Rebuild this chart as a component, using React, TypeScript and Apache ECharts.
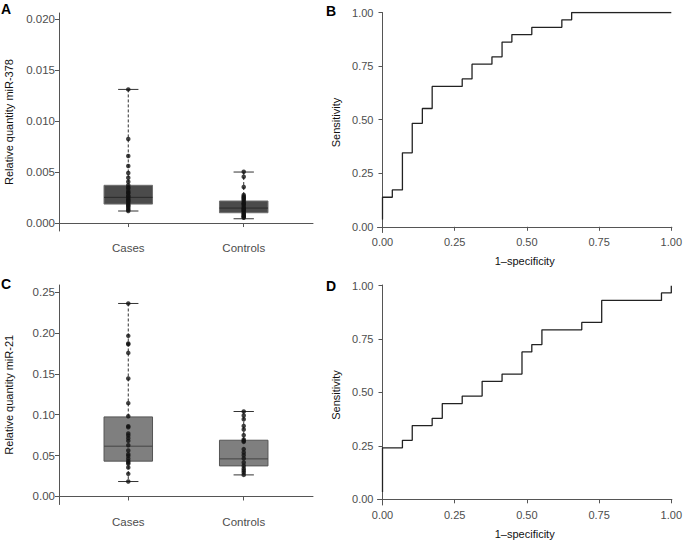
import React, { useEffect, useRef } from "react";
import * as echarts from "echarts";

// ---------- Data ----------
const boxCategories = ["Cases", "Controls"];
const boxPositions = [1, 2];

// box stats: [lower whisker, Q1, median, Q3, upper whisker]
const mir378CasesStats = [0.00118, 0.00186, 0.00252, 0.0037, 0.0131];
const mir378ControlsStats = [0.00042, 0.00101, 0.00147, 0.00216, 0.005];
const mir378CasesPoints = [
  0.0131, 0.00824, 0.00657, 0.00559, 0.0049, 0.00444, 0.00405, 0.0037, 0.0035, 0.0034,
  0.00317, 0.003, 0.00291, 0.00268, 0.0026, 0.00242, 0.0023, 0.00219, 0.0021, 0.00193,
  0.0018, 0.0017, 0.0016, 0.00144, 0.0013, 0.00118,
];
const mir378ControlsPoints = [
  0.00503, 0.00454, 0.00353, 0.00275, 0.0026, 0.00252, 0.0024, 0.00232, 0.00216, 0.00199,
  0.0019, 0.00183, 0.00167, 0.0015, 0.0014, 0.00134, 0.0012, 0.00118, 0.00101, 0.0009,
  0.00085, 0.0007, 0.00069, 0.0006, 0.00052,
];

const mir21CasesStats = [0.0183, 0.0432, 0.0615, 0.0973, 0.236];
const mir21ControlsStats = [0.0264, 0.0374, 0.046, 0.0688, 0.1039];
const mir21CasesPoints = [
  0.236, 0.1964, 0.1871, 0.186, 0.1756, 0.1443, 0.1141, 0.0982, 0.086, 0.0847, 0.077,
  0.0746, 0.0713, 0.068, 0.0627, 0.0562, 0.0517, 0.0497, 0.0465, 0.0436, 0.0416, 0.04,
  0.0355, 0.0277, 0.0183,
];
const mir21ControlsPoints = [
  0.1039, 0.099, 0.0945, 0.0863, 0.0819, 0.075, 0.0697, 0.068, 0.0668, 0.0579, 0.0538,
  0.0505, 0.0465, 0.0416, 0.0375, 0.0343, 0.0318, 0.0293, 0.0264,
];

// ROC curves (step points: horizontal then vertical)
const rocBFpr = [0, 0, 0.034, 0.069, 0.103, 0.138, 0.172, 0.276, 0.31, 0.379, 0.414, 0.448, 0.517, 0.621, 0.655, 1];
const rocBSens = [0.034, 0.138, 0.172, 0.345, 0.483, 0.552, 0.655, 0.69, 0.759, 0.793, 0.862, 0.897, 0.931, 0.966, 1, 1];
const rocDFpr = [0, 0, 0.069, 0.103, 0.172, 0.207, 0.276, 0.345, 0.414, 0.483, 0.517, 0.552, 0.69, 0.759, 0.966, 1];
const rocDSens = [0.034, 0.241, 0.276, 0.345, 0.379, 0.448, 0.483, 0.552, 0.586, 0.69, 0.724, 0.793, 0.828, 0.931, 0.966, 1];

const ticks378 = [0, 0.005, 0.01, 0.015, 0.02];
const ticks21 = [0, 0.05, 0.1, 0.15, 0.2, 0.25];
const rocTicks = [0, 0.25, 0.5, 0.75, 1];

// ---------- Styling ----------
const FONT = "Liberation Sans, Arial, Helvetica, sans-serif";
const AXIS_COLOR = "#555";
const LABEL_COLOR = "#4d4d4d";

const baseAxis = (fontSize: number, margin: number) => ({
  axisLine: { show: true, lineStyle: { color: AXIS_COLOR, width: 1 } },
  axisTick: { show: true, length: 4, lineStyle: { color: AXIS_COLOR, width: 1 } },
  splitLine: { show: false },
  axisLabel: { color: LABEL_COLOR, fontSize, fontFamily: FONT, margin },
  nameTextStyle: { color: "#111", fontSize: 11, fontFamily: FONT },
});

function renderBox(fill: string, stroke: string, medianColor: string) {
  return (params: any, api: any) => {
    const x = api.value(0);
    const low = api.coord([x, api.value(1)]);
    const q1 = api.coord([x, api.value(2)]);
    const med = api.coord([x, api.value(3)]);
    const q3 = api.coord([x, api.value(4)]);
    const high = api.coord([x, api.value(5)]);
    const halfBox = api.size([0.21, 0])[0];
    const halfCap = api.size([0.088, 0])[0];
    const cx = low[0];
    const dash = { stroke: "#333", lineWidth: 1, lineDash: [3, 2] };
    const solid = { stroke: "#333", lineWidth: 1 };
    return {
      type: "group",
      children: [
        { type: "line", shape: { x1: cx, y1: high[1], x2: cx, y2: q3[1] }, style: dash },
        { type: "line", shape: { x1: cx, y1: q1[1], x2: cx, y2: low[1] }, style: dash },
        { type: "line", shape: { x1: cx - halfCap, y1: high[1], x2: cx + halfCap, y2: high[1] }, style: solid },
        { type: "line", shape: { x1: cx - halfCap, y1: low[1], x2: cx + halfCap, y2: low[1] }, style: solid },
        {
          type: "rect",
          shape: { x: cx - halfBox, y: q3[1], width: 2 * halfBox, height: q1[1] - q3[1] },
          style: { fill, stroke, lineWidth: 1 },
        },
        {
          type: "line",
          shape: { x1: cx - halfBox, y1: med[1], x2: cx + halfBox, y2: med[1] },
          style: { stroke: medianColor, lineWidth: 1 },
        },
      ],
    };
  };
}

export default function App() {
  const ref = useRef<HTMLDivElement>(null);

  useEffect(() => {
    if (!ref.current) return;
    const chart = echarts.init(ref.current, null, { renderer: "svg" });

    const catLabel = (v: number) => {
      const i = boxPositions.indexOf(v);
      return i >= 0 ? boxCategories[i] : "";
    };

    const boxX = (gridIndex: number) => ({
      type: "value",
      gridIndex,
      min: 0.4,
      max: 2.6,
      ...baseAxis(11.5, 11),
      axisTick: { show: true, length: 4, lineStyle: { color: AXIS_COLOR }, customValues: boxPositions },
      axisLabel: {
        color: LABEL_COLOR,
        fontSize: 11.5,
        fontFamily: FONT,
        margin: 11,
        customValues: boxPositions,
        formatter: (v: number) => catLabel(v),
      },
    });

    const rocX = (gridIndex: number) => ({
      type: "value",
      gridIndex,
      min: -0.0173,
      max: 1.002,
      ...baseAxis(11, 4),
      axisTick: { show: true, length: 4, lineStyle: { color: AXIS_COLOR }, customValues: rocTicks },
      axisLabel: {
        color: LABEL_COLOR,
        fontSize: 11,
        fontFamily: FONT,
        margin: 4,
        customValues: rocTicks,
        formatter: (v: number) => v.toFixed(2),
      },
      name: "1–specificity",
      nameLocation: "middle",
      nameGap: 23,
    });

    const rocY = (gridIndex: number, max: number) => ({
      type: "value",
      gridIndex,
      min: -0.0266,
      max,
      ...baseAxis(11, 4),
      axisTick: { show: true, length: 4, lineStyle: { color: AXIS_COLOR }, customValues: rocTicks },
      axisLabel: {
        color: LABEL_COLOR,
        fontSize: 11,
        fontFamily: FONT,
        margin: 4,
        customValues: rocTicks,
        formatter: (v: number) => v.toFixed(2),
      },
      name: "Sensitivity",
      nameLocation: "middle",
      nameGap: 36,
    });

    const boxY = (gridIndex: number, min: number, max: number, ticks: number[], digits: number, name: string) => ({
      type: "value",
      gridIndex,
      min,
      max,
      ...baseAxis(11.5, 4),
      axisTick: { show: true, length: 4, lineStyle: { color: AXIS_COLOR }, customValues: ticks },
      axisLabel: {
        color: LABEL_COLOR,
        fontSize: 11.5,
        fontFamily: FONT,
        margin: 4,
        customValues: ticks,
        formatter: (v: number) => v.toFixed(digits),
      },
      name,
      nameLocation: "middle",
      nameGap: 45,
    });

    const rocData = (fpr: number[], sens: number[]) => fpr.map((f, i) => [f, sens[i]]);

    const letter = (text: string, left: number, top: number) => ({
      type: "text",
      left,
      top,
      style: { text, fontSize: 14, fontWeight: "bold", fontFamily: FONT, fill: "#000" },
    });

    chart.setOption({
      animation: false,
      backgroundColor: "#fff",
      grid: [
        { left: 59, top: 13, width: 254, height: 218 },
        { left: 377.5, top: 12.5, width: 296.5, height: 220 },
        { left: 59, top: 285, width: 254, height: 219.5 },
        { left: 377.5, top: 285, width: 296.5, height: 220 },
      ],
      xAxis: [boxX(0), rocX(1), boxX(2), rocX(3)],
      yAxis: [
        boxY(0, -0.00078, 0.02059, ticks378, 3, "Relative quantity miR-378"),
        rocY(1, 1.0),
        boxY(2, -0.0098, 0.2586, ticks21, 2, "Relative quantity miR-21"),
        rocY(3, 1.003),
      ],
      graphic: [letter("A", 1, 2), letter("B", 326, 4), letter("C", 1, 277), letter("D", 326, 279)],
      series: [
        {
          type: "custom",
          xAxisIndex: 0,
          yAxisIndex: 0,
          renderItem: renderBox("#4b4b4b", "#6e6e6e", "#2a2a2a"),
          encode: { x: 0, y: [1, 2, 3, 4, 5] },
          data: [
            [boxPositions[0], ...mir378CasesStats],
            [boxPositions[1], ...mir378ControlsStats],
          ],
          z: 2,
        },
        {
          type: "scatter",
          xAxisIndex: 0,
          yAxisIndex: 0,
          symbolSize: 4.5,
          itemStyle: { color: "#111" },
          data: [
            ...mir378CasesPoints.map((v) => [boxPositions[0], v]),
            ...mir378ControlsPoints.map((v) => [boxPositions[1], v]),
          ],
          z: 3,
        },
        {
          type: "custom",
          xAxisIndex: 2,
          yAxisIndex: 2,
          renderItem: renderBox("#7f7f7f", "#555", "#444"),
          encode: { x: 0, y: [1, 2, 3, 4, 5] },
          data: [
            [boxPositions[0], ...mir21CasesStats],
            [boxPositions[1], ...mir21ControlsStats],
          ],
          z: 2,
        },
        {
          type: "scatter",
          xAxisIndex: 2,
          yAxisIndex: 2,
          symbolSize: 4.5,
          itemStyle: { color: "#111" },
          data: [
            ...mir21CasesPoints.map((v) => [boxPositions[0], v]),
            ...mir21ControlsPoints.map((v) => [boxPositions[1], v]),
          ],
          z: 3,
        },
        {
          type: "line",
          xAxisIndex: 1,
          yAxisIndex: 1,
          step: "end",
          showSymbol: false,
          lineStyle: { color: "#222", width: 1.3 },
          data: rocData(rocBFpr, rocBSens),
        },
        {
          type: "line",
          xAxisIndex: 3,
          yAxisIndex: 3,
          step: "end",
          showSymbol: false,
          lineStyle: { color: "#222", width: 1.3 },
          data: rocData(rocDFpr, rocDSens),
        },
      ],
    });

    return () => chart.dispose();
  }, []);

  return (
    <div
      ref={ref}
      style={{ position: "fixed", left: 0, top: 0, width: 685, height: 540, background: "#fff" }}
    />
  );
}
